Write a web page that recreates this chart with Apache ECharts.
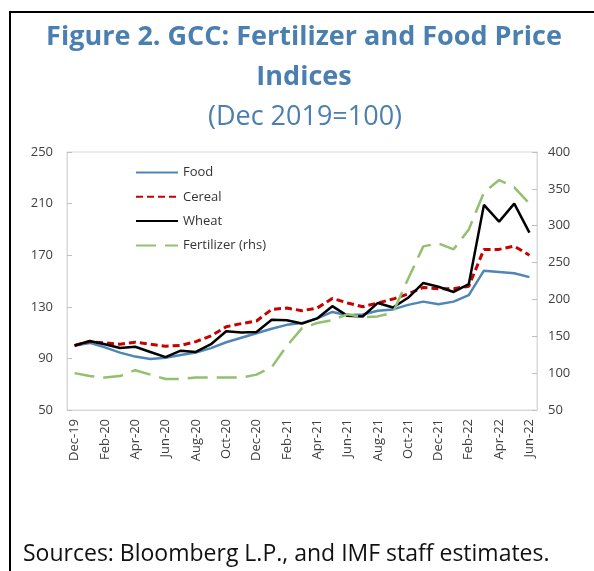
<!DOCTYPE html>
<html>
<head>
<meta charset="utf-8">
<script src="https://cdn.jsdelivr.net/npm/echarts@6/dist/echarts.min.js"></script>
<style>
  html, body { margin: 0; padding: 0; background: #fff; }
  #chart { width: 594px; height: 571px; }
</style>
</head>
<body>
<div id="chart"></div>
<script>
// months, Dec 2019 to Jun 2022
const months = [
  'Dec-19', 'Jan-20', 'Feb-20', 'Mar-20', 'Apr-20', 'May-20', 'Jun-20', 'Jul-20',
  'Aug-20', 'Sep-20', 'Oct-20', 'Nov-20', 'Dec-20', 'Jan-21', 'Feb-21', 'Mar-21',
  'Apr-21', 'May-21', 'Jun-21', 'Jul-21', 'Aug-21', 'Sep-21', 'Oct-21', 'Nov-21',
  'Dec-21', 'Jan-22', 'Feb-22', 'Mar-22', 'Apr-22', 'May-22', 'Jun-22'
];
// left axis
const food = [
  100, 102, 98.6, 94.5, 91.4, 89.5, 90.5, 92.7, 94.5, 98, 102.5, 106, 109.5, 113, 116, 117.5,
  121, 126, 123.5, 124, 127, 128, 131.5, 134, 132, 134, 139, 158, 157, 156, 153
];
const cereal = [
  100, 103, 102, 101, 102.5, 101, 99.5, 100, 103, 107.5, 114.5, 117, 119, 128, 129, 127,
  129, 136.5, 133, 130, 133, 136, 140, 145, 144, 144, 146, 174.5, 174.5, 177, 170
];
const wheat = [
  100, 103.5, 101, 98, 99, 95, 91, 96, 95, 101, 111, 110, 110.5, 120, 119.5, 117,
  121, 130.5, 123, 122.5, 133, 129.5, 137, 148.5, 145.5, 141.5, 147.5, 209, 196, 210, 187.5
];
// right axis
const fertilizer = [
  100, 96, 94, 96, 104, 98, 92, 92, 94, 94, 94, 94, 98, 108, 137, 161,
  168, 172, 180, 176, 177, 182, 228, 272, 276, 268, 295, 345, 362, 352, 330
];

const blue = '#4a7fb0';
const axisText = { color: '#404040', fontSize: 13, fontFamily: 'Open Sans' };

const chart = echarts.init(document.getElementById('chart'));
chart.setOption({
  animation: false,
  graphic: [
    { type: 'rect', shape: { x: 10, y: 12, width: 700, height: 700 },
      style: { fill: 'none', stroke: '#000', lineWidth: 2 } },
    { type: 'text', x: 304, y: 37,
      style: { text: 'Figure 2. GCC: Fertilizer and Food Price', fill: blue, font: 'bold 27px "Open Sans"',
        align: 'center', verticalAlign: 'middle' } },
    { type: 'text', x: 304, y: 77,
      style: { text: 'Indices', fill: blue, font: 'bold 27px "Open Sans"',
        align: 'center', verticalAlign: 'middle' } },
    { type: 'text', x: 305, y: 117,
      style: { text: '(Dec 2019=100)', fill: blue, font: '27px "Open Sans"',
        align: 'center', verticalAlign: 'middle' } },
    { type: 'text', x: 23, y: 554,
      style: { text: 'Sources: Bloomberg L.P., and IMF staff estimates.', fill: '#111', font: '23px "Open Sans"',
        align: 'left', verticalAlign: 'middle' } }
  ],
  legend: {
    orient: 'vertical',
    left: 135,
    top: 166,
    padding: 0,
    itemWidth: 42,
    itemHeight: 14,
    itemGap: 11.3,
    itemStyle: { opacity: 0 },
    textStyle: { color: '#333', fontSize: 13, fontFamily: 'Open Sans' },
    data: ['Food', 'Cereal', 'Wheat', 'Fertilizer (rhs)']
  },
  grid: {
    left: 67, right: 57, top: 152, bottom: 161,
    show: true, borderColor: '#d9d9d9', borderWidth: 1
  },
  xAxis: {
    type: 'category',
    data: months,
    boundaryGap: true,
    axisLine: { lineStyle: { color: '#d9d9d9' } },
    axisTick: { inside: true, interval: 1, length: 4, lineStyle: { color: '#bfbfbf' } },
    axisLabel: Object.assign({ rotate: 90, interval: 1, margin: 9 }, axisText)
  },
  yAxis: [
    {
      type: 'value', min: 50, max: 250, interval: 40,
      splitLine: { show: false },
      axisLine: { show: true, lineStyle: { color: '#d9d9d9' } },
      axisTick: { show: true, inside: true, length: 5, lineStyle: { color: '#bfbfbf' } },
      axisLabel: Object.assign({ margin: 14 }, axisText)
    },
    {
      type: 'value', min: 50, max: 400, interval: 50,
      splitLine: { show: false },
      axisLine: { show: true, lineStyle: { color: '#d9d9d9' } },
      axisTick: { show: true, inside: true, length: 5, lineStyle: { color: '#bfbfbf' } },
      axisLabel: Object.assign({ margin: 11 }, axisText)
    }
  ],
  series: [
    { name: 'Food', type: 'line', data: food, symbol: 'none',
      lineStyle: { color: '#4f86b8', width: 2.5 }, itemStyle: { color: '#4f86b8' } },
    { name: 'Cereal', type: 'line', data: cereal, symbol: 'none',
      lineStyle: { color: '#c80000', width: 3, type: [7, 4] }, itemStyle: { color: '#c80000' } },
    { name: 'Wheat', type: 'line', data: wheat, symbol: 'none',
      lineStyle: { color: '#000', width: 2.5 }, itemStyle: { color: '#000' } },
    { name: 'Fertilizer (rhs)', type: 'line', data: fertilizer, yAxisIndex: 1, symbol: 'none',
      lineStyle: { color: '#93c06e', width: 2.5, type: [20, 9] }, itemStyle: { color: '#93c06e' } }
  ]
});
</script>
</body>
</html>
